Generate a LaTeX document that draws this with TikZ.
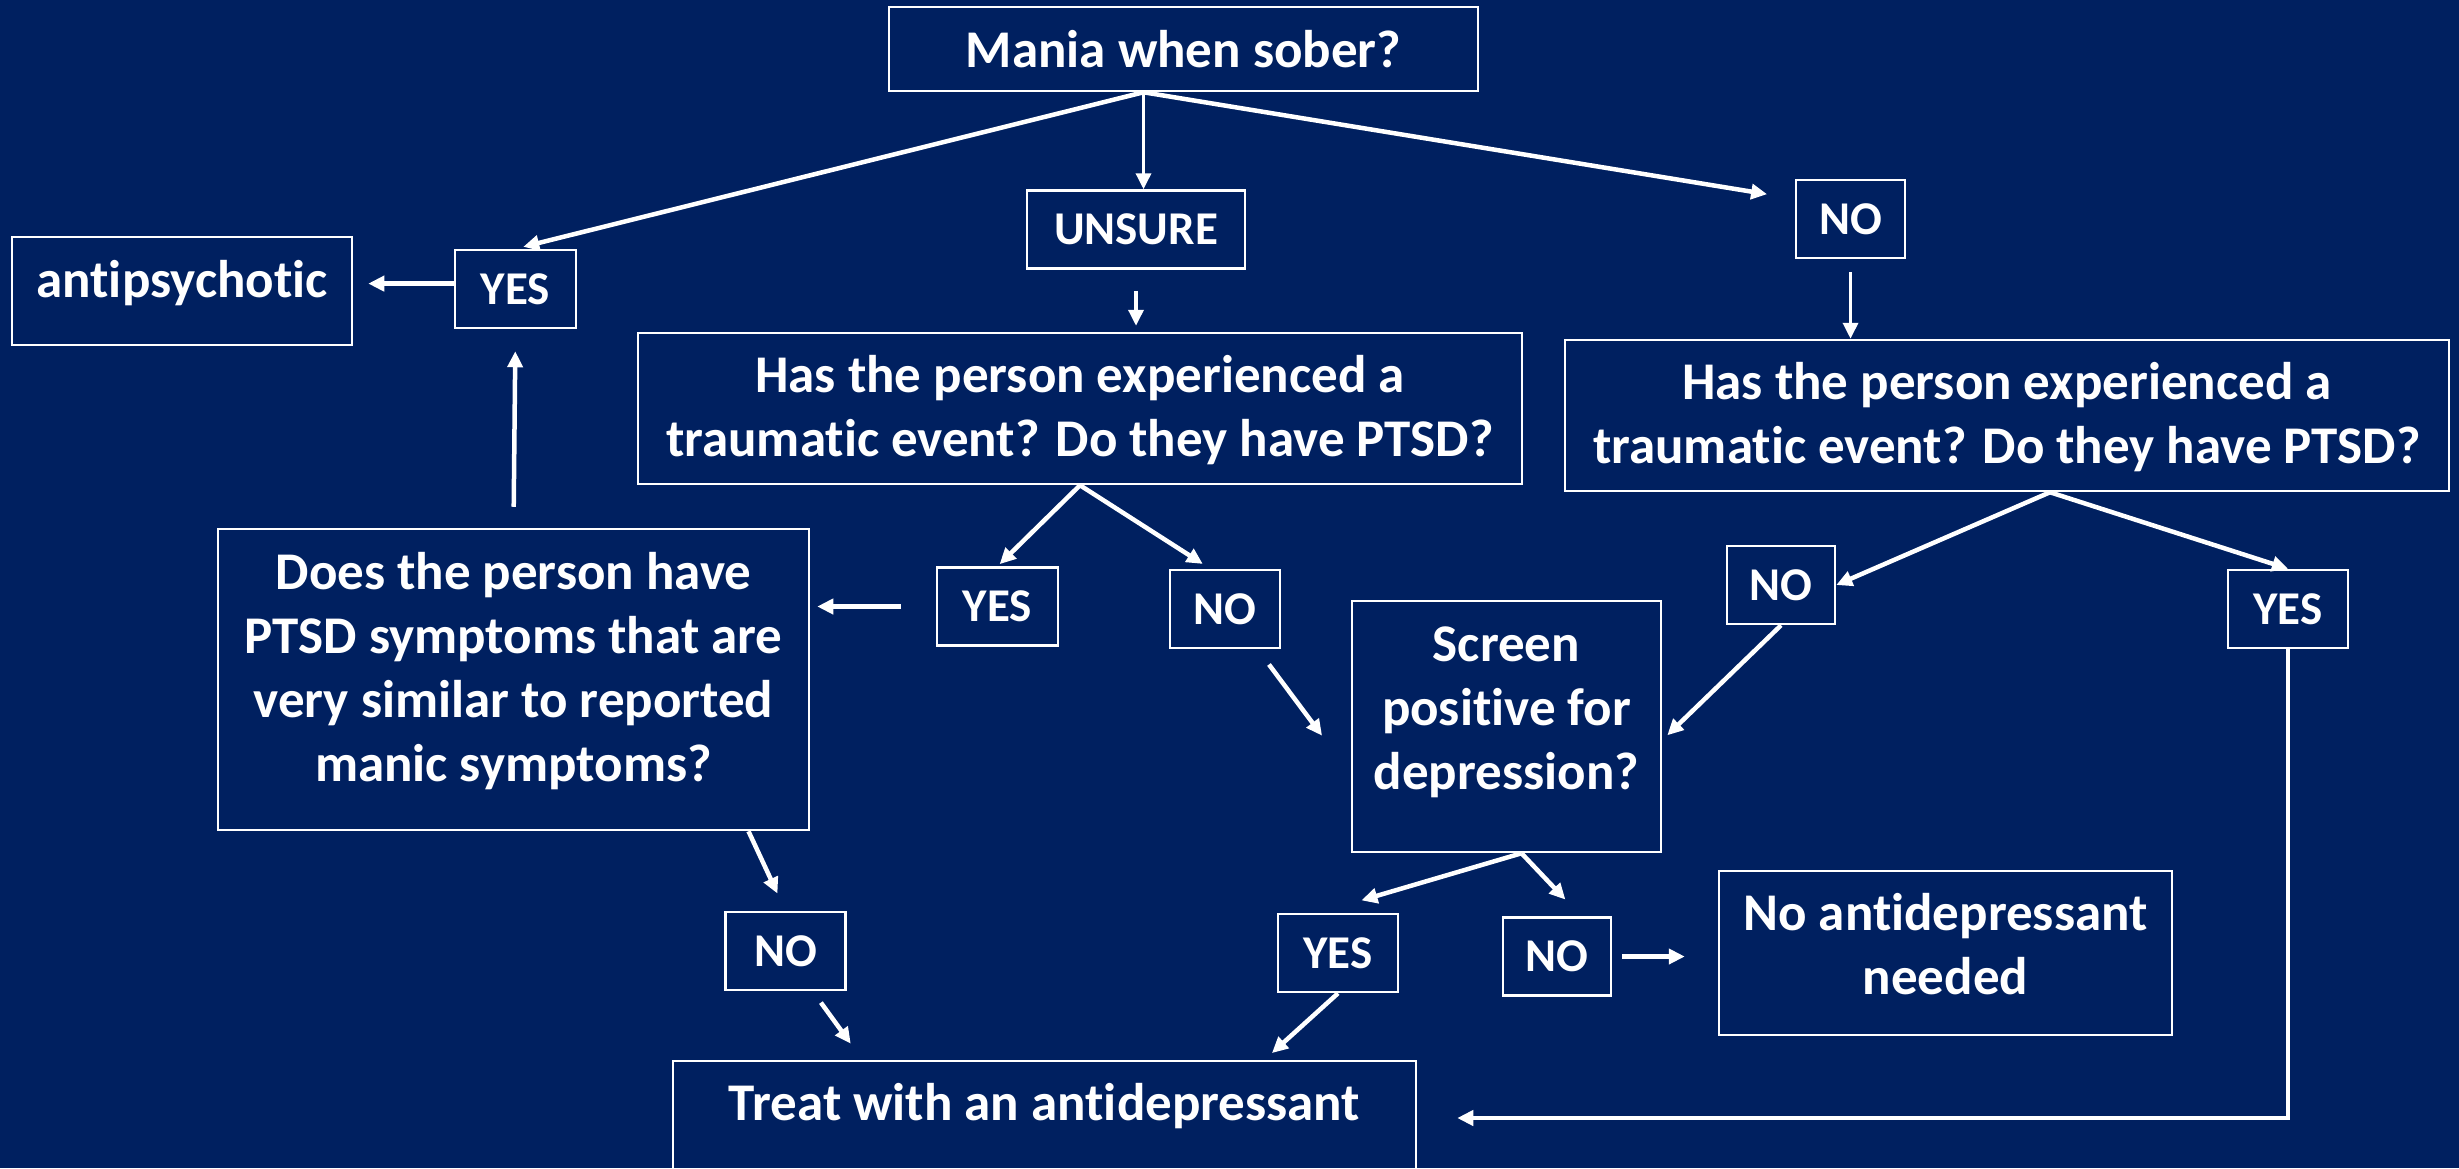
\documentclass[tikz,border=0pt]{standalone}
\usepackage{fontspec}
\setmainfont{Carlito}[Ligatures=CommonOff]
\usepackage{tikz}
\usetikzlibrary{arrows.meta}
\definecolor{slidebg}{RGB}{0,32,96}
\tikzset{
  % question / outcome box
  qbox/.style={rectangle, draw=white, line width=2.5pt, text=white, align=center,
               inner sep=0pt, minimum width=#1, font=\bfseries\fontsize{53pt}{64pt}\selectfont},
  qbox/.default={300pt},
  % yes / no / unsure box
  abox/.style={rectangle, draw=white, line width=2.5pt, text=white,
               inner sep=0pt, minimum width=#1, text height=54pt, text depth=24pt,
               font=\bfseries\fontsize{47pt}{56pt}\selectfont},
  abox/.default={120pt},
  % connector arrow
  flowarrow/.style={-{Triangle[length=16pt,width=15pt]}, white, line width=4.5pt},
  % lighter connector arrow
  thinarrow/.style={flowarrow, line width=3.5pt},
}
\begin{document}
\begin{tikzpicture}[x=1pt, y=-1pt]
  \fill[slidebg] (0,0) rectangle (2459,1168);
  \useasboundingbox (0,0) rectangle (2459,1168);

  % first question and its answers
  \node[qbox=589pt, text height=60pt, text depth=24pt] (mania) at (1183.5,49) {Mania when sober?};
  \node[abox=121pt] (yesA) at (515.5,289) {YES};
  \node[abox=218pt] (unsure) at (1136,229.5) {UNSURE};
  \node[abox=109pt] (noA) at (1850.5,219) {NO};
  \node[qbox=340pt, text height=60pt, text depth=48pt] (antipsy) at (182,291) {antipsychotic};

  % trauma questions
  \node[qbox=884pt, text height=123pt, text depth=28pt] (hasA) at (1080,408.5)
    {Has the person experienced a\\traumatic event? Do they have PTSD?};
  \node[qbox=884pt, text height=123pt, text depth=28pt] (hasB) at (2007,415.5)
    {Has the person experienced a\\traumatic event? Do they have PTSD?};
  \node[abox=121pt] (yesB) at (997.5,606.5) {YES};
  \node[abox=110pt] (noB) at (1225,609) {NO};
  \node[abox=108pt] (noC) at (1781,585) {NO};
  \node[abox=120pt] (yesC) at (2288,609) {YES};

  % follow-up questions
  \node[qbox=591pt, text height=252pt, text depth=49pt] (does) at (513.5,679.5)
    {Does the person have\\PTSD symptoms that are\\very similar to reported\\manic symptoms?};
  \node[qbox=309pt, text height=188pt, text depth=63pt] (screen) at (1506.5,726.5)
    {Screen\\positive for\\depression?};
  \node[abox=120pt] (noD) at (785.5,951) {NO};
  \node[abox=120pt] (yesD) at (1338,953) {YES};
  \node[abox=108pt] (noE) at (1557,956.5) {NO};

  % outcomes
  \node[qbox=453pt, text height=123pt, text depth=41pt] (noad) at (1945.5,953)
    {No antidepressant\\needed};
  \node[qbox=743pt, text height=59pt, text depth=55pt] (treat) at (1044.5,1118)
    {Treat with an antidepressant};

  % arrows from the first question
  \coordinate (mfork) at ([xshift=-40pt]mania.south);
  \draw[flowarrow, shorten >=8pt] (mfork) -- (yesA.north);
  \draw[thinarrow] (mfork) -- (mfork |- unsure.north);
  \draw[flowarrow, shorten >=28pt] (mfork) -- (noA.160);
  \draw[thinarrow, shorten <=21pt, shorten >=6pt] (unsure.south) -- (unsure.south |- hasA.north);
  \draw[thinarrow, shorten <=13pt] (noA.south) -- (noA.south |- hasB.north);
  \draw[flowarrow, shorten >=15pt] (yesA.175) -- (yesA.175 -| antipsy.east);

  % left branch
  \draw[flowarrow, shorten <=21pt, shorten >=22pt] (does.north) -- (yesA.south);
  \draw[flowarrow, shorten >=3pt] (hasA.south) -- (yesB.north);
  \draw[flowarrow, shorten >=9pt] (hasA.south) -- (noB.110);
  \draw[flowarrow, shorten <=35pt, shorten >=7pt] (yesB.west) -- (yesB.west -| does.east);
  \draw[flowarrow, shorten <=19pt, shorten >=48pt] (noB.-51) -- (screen.197);
  \coordinate (dfork) at ([xshift=235pt]does.south);
  \draw[flowarrow, shorten >=19pt] (dfork) -- (noD.north);
  \draw[flowarrow, shorten <=14pt, shorten >=20pt] (noD.-56) -- ([xshift=-182pt]treat.north);

  % right branch
  \coordinate (bfork) at ([xshift=43pt]hasB.south);
  \draw[flowarrow] (bfork) -- (noC.east);
  \draw[flowarrow] (bfork) -- (yesC.north);
  \draw[flowarrow, shorten >=7pt] (noC.south) -- (screen.-5);
  \draw[flowarrow, shorten >=40pt] (yesC.south) |- (treat.east);

  % depression screen
  \coordinate (sfork) at ([xshift=15pt]screen.south);
  \draw[flowarrow, shorten >=44pt] (sfork) -- (yesD.115);
  \draw[flowarrow, shorten >=23pt] (sfork) -- (noE.59);
  \draw[flowarrow, shorten <=10pt, shorten >=33pt] (noE.east) -- (noE.east -| noad.west);
  \draw[flowarrow, shorten >=10pt] (yesD.south) -- ([xshift=220pt]treat.north);
\end{tikzpicture}
\end{document}
